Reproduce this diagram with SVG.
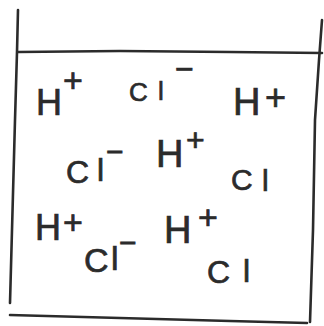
<svg xmlns="http://www.w3.org/2000/svg" width="324" height="326" viewBox="0 0 324 326">
  <style>
    .pen { fill: none; stroke: #2b2b2b; stroke-width: 2.6; stroke-linecap: round; stroke-linejoin: round; }
    .ion { font-family: "Liberation Sans", "DejaVu Sans", sans-serif; fill: #2b2b2b; stroke: #2b2b2b; stroke-width: 0.7; }
  </style>
  <rect width="324" height="326" fill="#ffffff"/>
  <g id="beaker">
    <path class="pen" d="M18,10 L17,52 L15,120 L12,230 L10,303"/>
    <path class="pen" d="M18,52 L120,51 L230,52 L322,53"/>
    <path class="pen" d="M322,20 L319,60 L315,120 L313,230 L310,322"/>
    <path class="pen" d="M10,315 L120,318 L230,321 L307,323"/>
  </g>
  <g id="ion-h1"><text class="ion" font-size="36"><tspan x="36" y="115">H</tspan><tspan x="63" y="92" font-size="34">+</tspan></text></g>
  <g id="ion-cl1"><text class="ion" font-size="26"><tspan x="129" y="101">C</tspan><tspan x="158" y="100">l</tspan><tspan x="175" y="80" font-size="32">−</tspan></text></g>
  <g id="ion-h2"><text class="ion" font-size="38"><tspan x="233" y="115">H</tspan><tspan x="265" y="110" font-size="36">+</tspan></text></g>
  <g id="ion-cl2"><text class="ion" font-size="32"><tspan x="66" y="183">C</tspan><tspan x="97" y="181">l</tspan><tspan x="106" y="162" font-size="30">−</tspan></text></g>
  <g id="ion-h3"><text class="ion" font-size="38"><tspan x="156" y="167">H</tspan><tspan x="186" y="151" font-size="32">+</tspan></text></g>
  <g id="ion-cl3"><text class="ion" font-size="30"><tspan x="231" y="190">C</tspan><tspan x="262" y="191">l</tspan></text></g>
  <g id="ion-h4"><text class="ion" font-size="36"><tspan x="35" y="240">H</tspan><tspan x="63" y="234" font-size="34">+</tspan></text></g>
  <g id="ion-cl4"><text class="ion" font-size="34"><tspan x="84" y="272">C</tspan><tspan x="111" y="270">l</tspan><tspan x="119" y="253" font-size="30">−</tspan></text></g>
  <g id="ion-h5"><text class="ion" font-size="38"><tspan x="164" y="243">H</tspan><tspan x="198" y="229" font-size="34">+</tspan></text></g>
  <g id="ion-cl5"><text class="ion" font-size="32"><tspan x="207" y="283">C</tspan><tspan x="243" y="282">l</tspan></text></g>
</svg>
